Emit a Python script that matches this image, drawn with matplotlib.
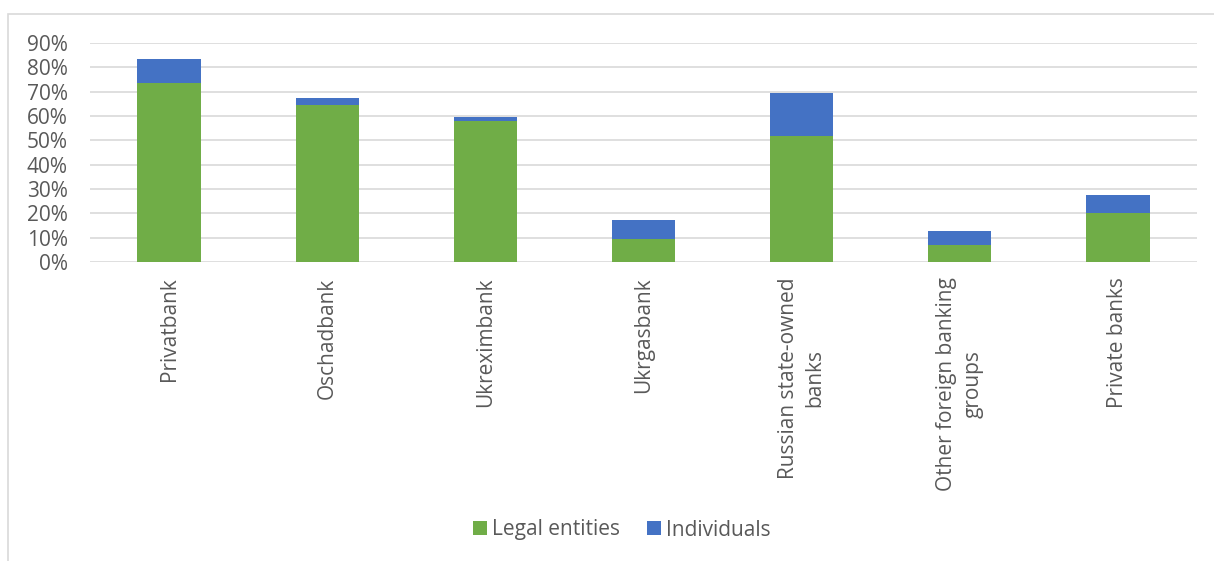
import numpy as np
import matplotlib.pyplot as plt
from matplotlib.patches import Rectangle

plt.rcParams['font.family'] = ['Open Sans', 'DejaVu Sans']

categories = ["Privatbank", "Oschadbank", "Ukreximbank", "Ukrgasbank",
              "Russian state-owned\nbanks", "Other foreign banking\ngroups",
              "Private banks"]
legal_entities = [73.6, 64.5, 58.0, 9.5, 51.8, 7.0, 20.1]
individuals = [9.8, 2.9, 1.6, 7.8, 17.7, 5.7, 7.4]

green = "#70AD47"
blue = "#4472C4"
text_color = "#595959"

fig = plt.figure(figsize=(12.14, 5.61), dpi=100)
ax = fig.add_axes([90 / 1214, 1 - 262 / 561, (1197 - 90) / 1214, (262 - 43) / 561])

x = np.arange(len(categories))
legal = np.array(legal_entities) / 100
indiv = np.array(individuals) / 100

ax.bar(x, legal, width=0.4, color=green, label="Legal entities", zorder=3)
ax.bar(x, indiv, width=0.4, bottom=legal, color=blue, label="Individuals", zorder=3)

ax.set_xlim(-0.5, len(categories) - 0.5)
ax.set_ylim(0, 0.9)
ax.set_yticks(np.arange(0, 0.91, 0.1))
ax.set_yticklabels([f"{int(round(v * 100))}%" for v in np.arange(0, 0.91, 0.1)])
ax.grid(axis="y", color="#D9D9D9", linewidth=1.2, zorder=0)
ax.set_xticks(x)
ax.set_xticklabels(categories, rotation=90, va="top", ha="center", linespacing=1.3)

for side in ["top", "right", "left", "bottom"]:
    ax.spines[side].set_visible(False)
ax.tick_params(axis="both", length=0, colors=text_color, labelsize=15)
ax.tick_params(axis="x", pad=11)
ax.tick_params(axis="y", pad=16)

fig.legend(loc="center", bbox_to_anchor=(622 / 1214, 1 - 530 / 561), ncol=2,
           frameon=False, fontsize=15, labelcolor=text_color,
           handlelength=0.67, handleheight=0.67, columnspacing=1.3, handletextpad=0.25)

# chart border
fig.patches.append(Rectangle((8 / 1214, -0.01), 1.02, 1 - 14 / 561 + 0.01,
                             transform=fig.transFigure, fill=False,
                             edgecolor="#D9D9D9", linewidth=1.2))

fig.savefig("out.png", dpi=100)
plt.close(fig)
